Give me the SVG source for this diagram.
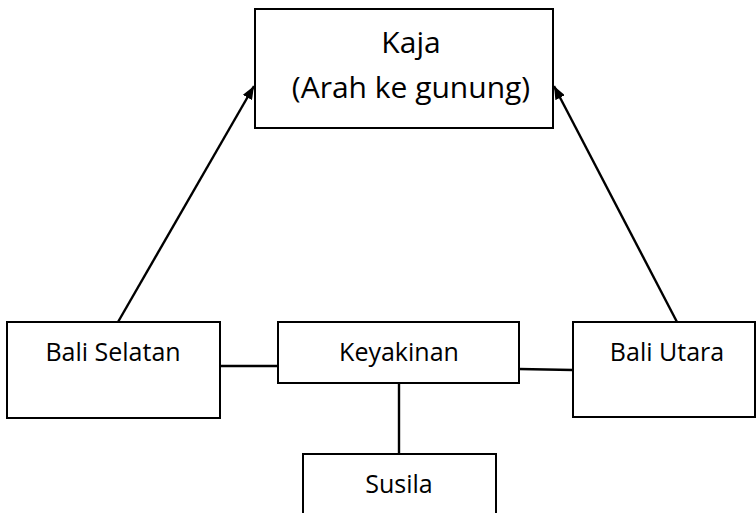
<svg xmlns="http://www.w3.org/2000/svg" width="756" height="513" viewBox="0 0 756 513">
<style>
.box{fill:#fff;stroke:#000;stroke-width:2}
.t{font-family:"Open Sans",Lato,sans-serif;fill:#000;text-anchor:middle}
.big{font-size:30px}
.sm{font-size:25px}
.c{stroke:#000;stroke-width:2.4;fill:none}
</style>
<defs>
<marker id="ah" viewBox="0 0 10 8" refX="10" refY="4" markerWidth="5.5" markerHeight="4.4" orient="auto" markerUnits="strokeWidth">
<path d="M0,0 L10,4 L0,8 z" fill="#000"/>
</marker>
</defs>
<g id="connectors">
<line class="c" x1="118" y1="322" x2="254" y2="86" marker-end="url(#ah)"/>
<line class="c" x1="677" y1="322" x2="554" y2="86" marker-end="url(#ah)"/>
<line class="c" x1="221" y1="366" x2="278" y2="366"/>
<line class="c" x1="519" y1="369" x2="573" y2="370"/>
<line class="c" x1="399" y1="383" x2="399" y2="454"/>
</g>
<g id="kaja">
<rect class="box" x="255" y="9" width="298" height="119"/>
<text class="t big" x="411" y="53">Kaja</text>
<text class="t big" x="411" y="98">(Arah ke gunung)</text>
</g>
<g id="bali-selatan">
<rect class="box" x="7" y="322" width="213" height="96"/>
<text class="t sm" x="113" y="361">Bali Selatan</text>
</g>
<g id="keyakinan">
<rect class="box" x="278" y="322" width="241" height="61"/>
<text class="t sm" x="399" y="361">Keyakinan</text>
</g>
<g id="bali-utara">
<rect class="box" x="573" y="322" width="182" height="95"/>
<text class="t sm" x="667" y="361">Bali Utara</text>
</g>
<g id="susila">
<rect class="box" x="303" y="454" width="193" height="70"/>
<text class="t sm" x="399" y="493">Susila</text>
</g>
</svg>
